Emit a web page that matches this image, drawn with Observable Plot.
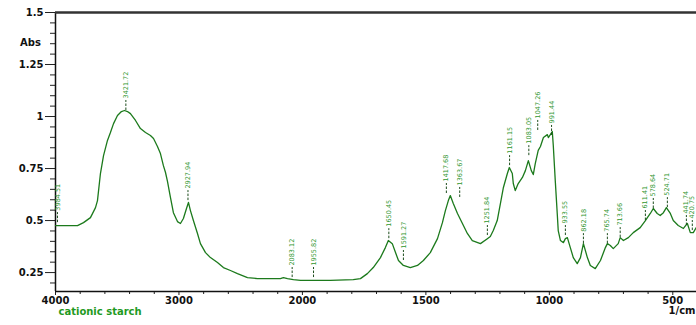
<!DOCTYPE html>
<html><head><meta charset="utf-8">
<script src="https://cdn.jsdelivr.net/npm/d3@7"></script>
<script src="https://cdn.jsdelivr.net/npm/@observablehq/plot@0.6"></script>
<style>html,body{margin:0;padding:0;background:#fff;} #chart{width:696px;height:325px;overflow:hidden;}</style>
</head><body><div id="chart"></div>
<script>
// Spectrum: wavenumber (1/cm) and absorbance
const wavenumber = [4000,3919,3822,3773,3717,3676,3660,3636,3611,3579,3555,3530,3498,3466,3441,3417,3393,3352,3312,3271,3231,3206,3174,3150,3126,3109,3093,3069,3045,3012,2988,2964,2939,2923,2907,2883,2850,2826,2785,2745,2688,2640,2583,2526,2445,2364,2259,2178,2154,2121,2073,2016,1968,1887,1794,1765,1737,1713,1684,1664,1652,1636,1623,1611,1591,1563,1534,1510,1482,1453,1433,1421,1409,1401,1389,1372,1352,1332,1312,1279,1251,1239,1227,1211,1198,1186,1170,1162,1150,1146,1138,1126,1109,1097,1085,1073,1065,1057,1045,1036,1024,1008,1004,996,988,984,976,968,964,955,943,935,927,915,903,887,874,862,846,834,814,793,773,765,753,741,721,713,700,680,660,632,611,603,591,579,563,551,538,526,510,498,478,457,441,429,417,405];
const absorbance = [0.476,0.476,0.476,0.490,0.514,0.562,0.596,0.726,0.812,0.885,0.923,0.966,1.005,1.024,1.029,1.024,1.014,0.981,0.942,0.923,0.909,0.894,0.856,0.822,0.764,0.731,0.688,0.611,0.538,0.495,0.486,0.510,0.558,0.587,0.548,0.500,0.438,0.389,0.346,0.322,0.298,0.274,0.260,0.245,0.226,0.221,0.221,0.221,0.226,0.221,0.216,0.212,0.212,0.212,0.216,0.221,0.245,0.274,0.322,0.370,0.404,0.389,0.346,0.308,0.284,0.274,0.284,0.308,0.346,0.413,0.490,0.548,0.596,0.620,0.582,0.534,0.486,0.438,0.404,0.389,0.413,0.423,0.452,0.500,0.582,0.659,0.726,0.755,0.726,0.678,0.644,0.678,0.707,0.740,0.788,0.740,0.721,0.774,0.837,0.856,0.899,0.913,0.899,0.913,0.928,0.861,0.692,0.534,0.452,0.404,0.394,0.413,0.418,0.370,0.322,0.293,0.322,0.389,0.322,0.284,0.269,0.308,0.370,0.389,0.380,0.365,0.389,0.418,0.404,0.418,0.442,0.466,0.500,0.514,0.534,0.558,0.534,0.524,0.538,0.562,0.534,0.500,0.476,0.462,0.486,0.442,0.442,0.466];

// Peak picks
const peakWavenumber = [3984,3430,2927,2083,1955,1650,1591,1417,1363,1251,1161,1083,1047,991,935,862,765,713,611,579,522,445,421];
const peakAbs = [0.490,1.029,0.596,0.226,0.226,0.413,0.308,0.630,0.611,0.428,0.764,0.812,0.933,0.909,0.428,0.389,0.389,0.418,0.500,0.558,0.562,0.476,0.452];
const peakLabel = ["3984.51","3421.72","2927.94","2083.12","1955.82","1650.45","1591.27","1417.68","1363.67","1251.84","1161.15","1083.05","1047.26","991.44","933.55","862.18","765.74","713.66","611.41","578.64","524.71","441.74","420.75"];

// Axis ticks
const xMajorTicks = [4000,3000,2000,1500,1000,500];
const xMinorTicks = [3800,3600,3400,3200,2800,2600,2400,2200,1900,1800,1700,1600,1400,1300,1200,1100,900,800,700,600,400];
const yMajorTicks = [0.25,0.5,0.75,1,1.25,1.5];
const yMinorTicks = [0.2,0.3,0.35,0.4,0.45,0.55,0.6,0.65,0.7,0.8,0.85,0.9,0.95,1.05,1.1,1.15,1.2,1.3,1.35,1.4,1.45];
const seriesName = "cationic starch";
const yTitle = "Abs";
const xTitle = "1/cm";

// Wavenumber axis with a 2x scale change at 2000 1/cm
const toU = w => w >= 2000 ? (4000 - w) / 2 : 1000 + (2000 - w);
const fromU = u => u <= 1000 ? 4000 - 2 * u : 2000 - (u - 1000);

const spectrum = wavenumber.map((w, i) => ({w, a: absorbance[i]}));
const peaks = peakWavenumber.map((w, i) => ({w, a: peakAbs[i], label: peakLabel[i]}));

const W = 696, H = 325, mL = 55, mR = 0, mT = 12, mB = 34;
const yMin = 0.159, yMax = 1.5;
const uMax = toU(404);
const pxToAbs = (yMax - yMin) / (H - mT - mB);

const chart = Plot.plot({
  width: W, height: H,
  marginLeft: mL, marginRight: mR, marginTop: mT, marginBottom: mB,
  x: {domain: [0, uMax]},
  y: {domain: [yMin, yMax]},
  style: {fontFamily: "DejaVu Sans", fontSize: "10px", background: "#fff", overflow: "visible"},
  marks: [
    Plot.axisX(xMinorTicks.map(toU), {tickSize: 3, tickFormat: () => "", label: null, stroke: "#222"}),
    Plot.axisX(xMajorTicks.map(toU), {tickSize: 4, tickPadding: 1, tickFormat: u => String(Math.round(fromU(u))), label: null, fontWeight: "bold", fontSize: 10, stroke: "#222", fill: "#111"}),
    Plot.axisY(yMinorTicks, {tickSize: 5, tickFormat: () => "", label: null, stroke: "#222"}),
    Plot.axisY(yMajorTicks, {tickSize: 10, tickPadding: 2, tickFormat: d => String(d), label: null, fontWeight: "bold", fontSize: 10, stroke: "#222", fill: "#111"}),
    Plot.ruleX([0], {stroke: "#111", strokeWidth: 1.5}),
    Plot.ruleY([yMin], {stroke: "#111", strokeWidth: 1.5}),
    Plot.ruleY([yMax], {stroke: "#333", strokeWidth: 2.5}),
    Plot.line(spectrum, {x: d => toU(d.w), y: "a", stroke: "#1c7a1c", strokeWidth: 1.3}),
    Plot.ruleX(peaks, {x: d => toU(d.w), y1: "a", y2: d => d.a + 10 * pxToAbs, stroke: "#1d4d1d", strokeWidth: 1, strokeDasharray: "2.5,1.5"}),
    Plot.text(peaks, {x: d => toU(d.w), y: d => d.a + 12 * pxToAbs, text: "label", rotate: -90, textAnchor: "start", fontSize: 6.5, fill: "#2f962f"}),
    Plot.text([yTitle], {frameAnchor: "top-left", dx: -25, dy: 26, text: d => d, textAnchor: "middle", fontWeight: "bold", fontSize: 10, fill: "#111"}),
    Plot.text([xTitle], {frameAnchor: "bottom-right", dx: -1, dy: 22, text: d => d, textAnchor: "end", fontWeight: "bold", fontSize: 10, fill: "#111"}),
    Plot.text([seriesName], {frameAnchor: "bottom-left", dx: 3, dy: 23, text: d => d, textAnchor: "start", fontWeight: "bold", fontSize: 10, fill: "#1f9a1f"})
  ]
});
document.getElementById("chart").appendChild(chart);
</script>
</body></html>
